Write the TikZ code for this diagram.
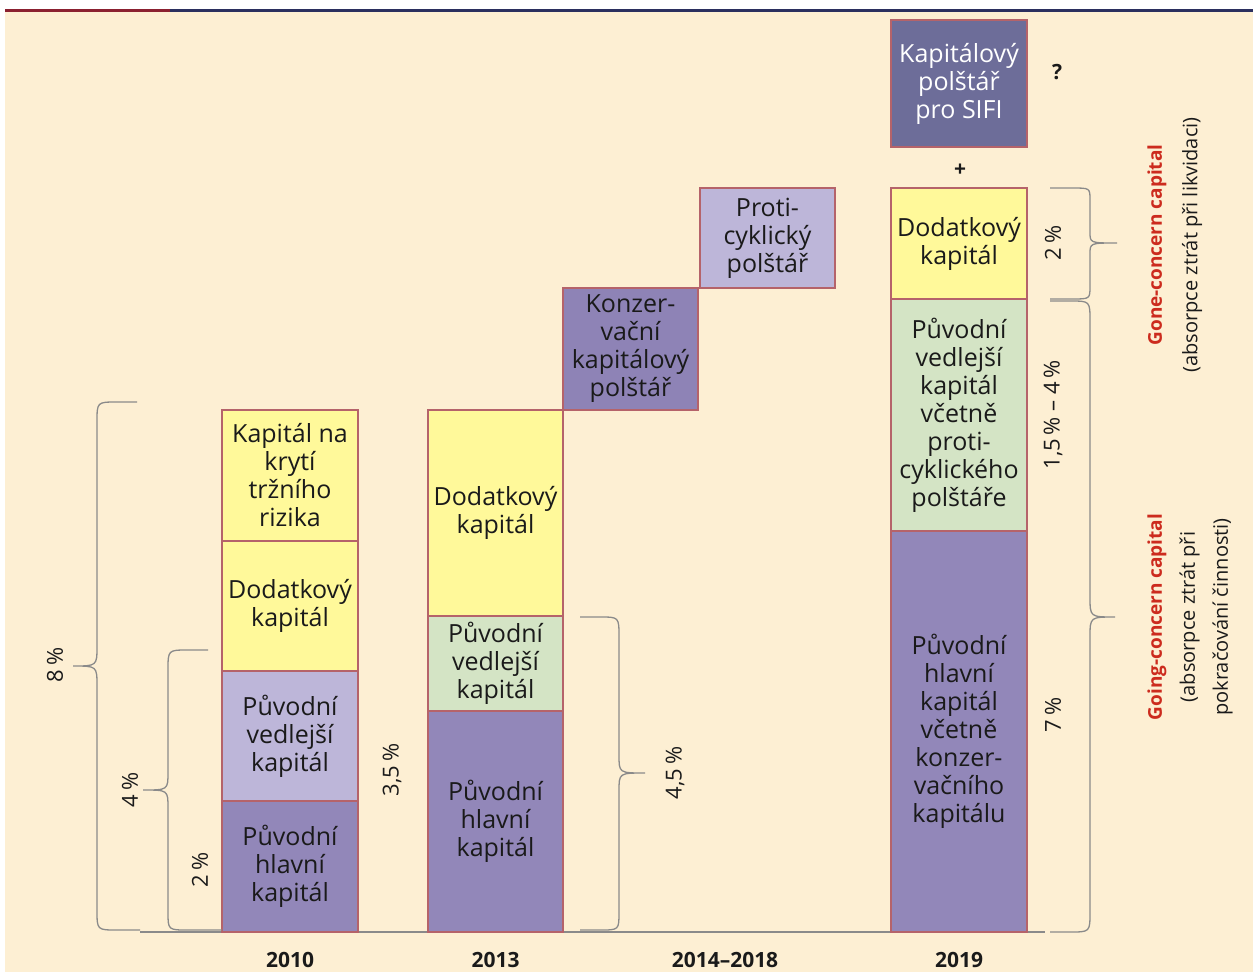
\documentclass[tikz,border=0pt]{standalone}
\usepackage{fontspec}
\setmainfont{Open Sans}
\usepackage{graphicx}
\definecolor{bgc}{HTML}{FDEFD3}
\definecolor{yel}{HTML}{FFF99A}
\definecolor{lpur}{HTML}{BDB6D9}
\definecolor{pur}{HTML}{9287B9}
\definecolor{kpur}{HTML}{8E83B6}
\definecolor{grn}{HTML}{D4E4C5}
\definecolor{sifi}{HTML}{6D6D99}
\definecolor{bord}{HTML}{B5636A}
\definecolor{brc}{HTML}{8A8A8A}
\definecolor{redt}{HTML}{CC2B1E}
\definecolor{navy}{HTML}{2B2F5E}
\definecolor{topred}{HTML}{8B2030}
\definecolor{txt}{HTML}{1A1A1A}
\begin{document}
\begin{tikzpicture}[x=1pt,y=-1pt,
  bx/.style={draw=bord, line width=1.5pt, inner sep=0pt, align=center,
    text=txt, font={\fontsize{25}{28}\selectfont}},
  brc/.style={draw=brc, line width=1.3pt},
  pct/.style={rotate=90, text=txt, font={\fontsize{22}{26}\selectfont}},
  yr/.style={text=txt, font={\fontsize{22}{26}\selectfont}},
  yrb/.style={text=txt, font={\bfseries\fontsize{21}{26}\selectfont}},
  side/.style={rotate=90, align=center, text=txt, font={\fontsize{20}{33}\selectfont}},
  redb/.style={text=redt, font={\bfseries\fontsize{19}{33}\selectfont}}]
\useasboundingbox (0,0) rectangle (1253,972);
\fill[white] (0,0) rectangle (1253,972);
\fill[bgc] (5,12) rectangle (1253,972);
\draw[topred, line width=2.5pt] (5,10.5) -- (170,10.5);
\draw[navy, line width=2.5pt] (170,10.5) -- (1253,10.5);
% baseline
\draw[brc] (140,932) -- (1045,932);
% 2010
\node[bx, fill=yel, minimum width=136pt, minimum height=131pt] (a1) at (290,475.5) {Kapitál na\\krytí\\tržního\\rizika};
\node[bx, fill=yel, minimum width=136pt, minimum height=130pt] (a2) at (290,606) {Dodatkový\\kapitál};
\node[bx, fill=lpur, minimum width=136pt, minimum height=130pt] (a3) at (290,736) {Původní\\vedlejší\\kapitál};
\node[bx, fill=pur, minimum width=136pt, minimum height=131pt] (a4) at (290,866.5) {Původní\\hlavní\\kapitál};
% 2013
\node[bx, fill=yel, minimum width=135pt, minimum height=206pt] (b1) at (495.5,513) {Dodatkový\\kapitál};
\node[bx, fill=grn, minimum width=135pt, minimum height=95pt] (b2) at (495.5,663.5) {Původní\\vedlejší\\kapitál};
\node[bx, fill=pur, minimum width=135pt, minimum height=221pt] (b3) at (495.5,821.5) {Původní\\hlavní\\kapitál};
% 2014-2018
\node[bx, fill=kpur, minimum width=135pt, minimum height=122pt] (c1) at (630.5,349) {Konzer-\\vační\\kapitálový\\polštář};
\node[bx, fill=lpur, minimum width=135pt, minimum height=100pt] (c2) at (767.5,238) {Proti-\\cyklický\\polštář};
% 2019
\node[bx, fill=sifi, text=white, minimum width=136pt, minimum height=127pt] (d0) at (959,83.5) {Kapitálový\\polštář\\pro SIFI};
\node[bx, fill=yel, minimum width=136pt, minimum height=111pt] (d1) at (959,243.5) {Dodatkový\\kapitál};
\node[bx, fill=grn, minimum width=136pt, minimum height=232pt] (d2) at (959,415) {Původní\\vedlejší\\kapitál\\včetně\\proti-\\cyklického\\polštáře};
\node[bx, fill=pur, minimum width=136pt, minimum height=401pt] (d3) at (959,731.5) {Původní\\hlavní\\kapitál\\včetně\\konzer-\\vačního\\kapitálu};
\node[yrb] (plus) at (960,170) {+};
\node[yrb] (q) at (1057,72) {?};
% braces left
\draw[brc] (137,402) -- (117,402) .. controls (97,402) .. (97,422) -- (97,646)
  .. controls (97,666) .. (73,666) .. controls (97,666) .. (97,686) -- (97,910)
  .. controls (97,930) .. (117,930) -- (140,930);
\draw[brc] (208,650) -- (188,650) .. controls (168,650) .. (168,670) -- (168,772)
  .. controls (168,790) .. (143,790) .. controls (168,790) .. (168,808) -- (168,912)
  .. controls (168,930) .. (188,930) -- (222,930);
% brace 4,5
\draw[brc] (580,617) -- (600,617) .. controls (619,617) .. (619,637) -- (619,755)
  .. controls (619,773) .. (645,773) .. controls (619,773) .. (619,791) -- (619,912)
  .. controls (619,930) .. (600,930) -- (580,930);
% braces 2019
\draw[brc] (1050,188) -- (1072,188) .. controls (1090,188) .. (1090,200) -- (1090,232)
  .. controls (1090,243) .. (1117,243) .. controls (1090,243) .. (1090,254) -- (1090,286)
  .. controls (1090,299) .. (1072,299) -- (1050,299);
\draw[brc] (1050,301) -- (1070,301) .. controls (1090,301) .. (1090,321) -- (1090,597)
  .. controls (1090,617) .. (1115,617) .. controls (1090,617) .. (1090,637) -- (1090,912)
  .. controls (1090,932) .. (1070,932) -- (1050,932);
% percent labels
\node[pct] (p8) at (55,665) {8\,\%};
\node[pct] (p4) at (130,790) {4\,\%};
\node[pct] (p2) at (200,870) {2\,\%};
\node[pct] (p35) at (392,770) {3,5\,\%};
\node[pct] (p45) at (675,773) {4,5\,\%};
\node[pct] (q2) at (1053,243) {2\,\%};
\node[pct] (q15) at (1053,415) {1,5\,\% – 4\,\%};
\node[pct] (q7) at (1053,715) {7\,\%};
% side texts
\node[side, redb] (gonet) at (1157,245) {Gone-concern capital};
\node[side] (gone) at (1192,245) {(absorpce ztrát při likvidaci)};
\node[side, redb] (goingt) at (1157,617) {Going-concern capital};
\node[side] (going) at (1206,617) {(absorpce ztrát při\\pokračování činnosti)};
% years
\node[yrb] (y1) at (290,960) {2010};
\node[yrb] (y2) at (495.5,960) {2013};
\node[yrb] (y3) at (725,960) {2014–2018};
\node[yrb] (y4) at (959,960) {2019};
\end{tikzpicture}
\end{document}
